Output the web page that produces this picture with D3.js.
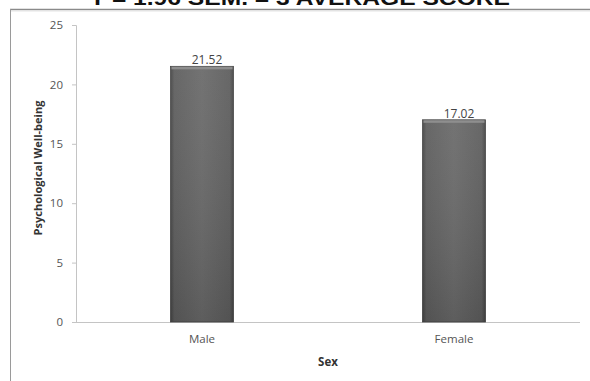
<!DOCTYPE html>
<html><head><meta charset="utf-8">
<script src="https://cdn.jsdelivr.net/npm/d3@7"></script>
<style>body{margin:0;background:#fff}svg{display:block}</style>
</head><body>
<script>
const categories = ["Male", "Female"];
const values = [21.52, 17.02];
const yTicks = [0, 5, 10, 15, 20, 25];
const titleText = "T = 1.96 SEM. = 3 AVERAGE SCORE";
const xTitle = "Sex";
const yTitle = "Psychological Well-being";

(function () {
const W = 590, H = 381;
const svg = d3.select("body").append("svg").attr("width", W).attr("height", H);
const defs = svg.append("defs");
const g1 = defs.append("linearGradient").attr("id", "barH").attr("x1", 0).attr("x2", 1).attr("y1", 0).attr("y2", 0);
[[0, "#444"], [0.06, "#5e5e5e"], [0.5, "#6a6a6a"], [0.94, "#5e5e5e"], [1, "#444"]]
  .forEach(([o, c]) => g1.append("stop").attr("offset", o).attr("stop-color", c));
const g2 = defs.append("linearGradient").attr("id", "barV").attr("x1", 0).attr("x2", 0).attr("y1", 0).attr("y2", 1);
[[0, "#ffffff", 0.06], [1, "#000000", 0.12]]
  .forEach(([o, c, a]) => g2.append("stop").attr("offset", o).attr("stop-color", c).attr("stop-opacity", a));

// title (clipped at top, as in the reference)
svg.append("text").attr("x", 300).attr("y", 5).attr("text-anchor", "middle")
  .attr("font-family", "Liberation Sans, Arial, sans-serif").attr("font-weight", "bold")
  .attr("font-size", 21).attr("textLength", 420).attr("lengthAdjust", "spacingAndGlyphs")
  .attr("fill", "#111").text(titleText);

// frame
svg.append("line").attr("x1", 10).attr("x2", W).attr("y1", 9.5).attr("y2", 9.5).attr("stroke", "#8a8a8a").attr("stroke-width", 1.5);
svg.append("line").attr("x1", 10).attr("x2", W).attr("y1", 11).attr("y2", 11).attr("stroke", "#e4e4e4").attr("stroke-width", 1);
svg.append("line").attr("x1", 10.5).attr("x2", 10.5).attr("y1", 9).attr("y2", H).attr("stroke", "#9a9a9a").attr("stroke-width", 1);

const pl = 76, pr = 580, pt = 25, pb = 322;
const x = d3.scaleBand().domain(categories).range([pl, pr]).paddingInner(0.75).paddingOuter(0.375);
const y = d3.scaleLinear().domain([0, 25]).range([pb, pt]);

const font = "Open Sans, Liberation Sans, sans-serif";

// y axis
const ya = svg.append("g").attr("transform", `translate(${pl},0)`)
  .call(d3.axisLeft(y).tickValues(yTicks).tickSize(4).tickPadding(9));
ya.select(".domain").attr("stroke", "#c4c4c4");
ya.selectAll(".tick line").attr("stroke", "#c4c4c4");
ya.selectAll(".tick text").attr("font-family", font).attr("font-size", 11.5).attr("fill", "#555");

// x axis
const xa = svg.append("g").attr("transform", `translate(0,${pb})`)
  .call(d3.axisBottom(x).tickSize(0).tickPadding(13).tickSizeOuter(0));
xa.select(".domain").attr("stroke", "#c4c4c4").attr("d", `M${pl},0.5H${pr}`);
xa.selectAll(".tick text").attr("font-family", font).attr("font-size", 11.5).attr("fill", "#555");

// bars
const bars = svg.append("g").selectAll("g").data(categories).join("g");
bars.append("rect").attr("x", d => x(d)).attr("width", x.bandwidth())
  .attr("y", (d, i) => y(values[i])).attr("height", (d, i) => y(0) - y(values[i]))
  .attr("fill", "url(#barH)").attr("stroke", "#444").attr("stroke-width", 0.8);
bars.append("rect").attr("x", d => x(d)).attr("width", x.bandwidth())
  .attr("y", (d, i) => y(values[i])).attr("height", (d, i) => y(0) - y(values[i]))
  .attr("fill", "url(#barV)");
bars.append("rect").attr("x", d => x(d) + 1).attr("width", x.bandwidth() - 2)
  .attr("y", (d, i) => y(values[i]) + 0.5).attr("height", 2.5).attr("fill", "#8e8e8e");

// value labels
svg.append("g").selectAll("text").data(categories).join("text")
  .attr("x", d => x(d) + x.bandwidth() / 2 + 5).attr("y", (d, i) => y(values[i]) - 2)
  .attr("text-anchor", "middle").attr("font-family", font).attr("font-size", 12).attr("fill", "#444")
  .text((d, i) => values[i].toFixed(2));

// axis titles
svg.append("text").attr("x", (pl + pr) / 2).attr("y", 366).attr("text-anchor", "middle")
  .attr("font-family", font).attr("font-weight", "bold").attr("font-size", 11.5).attr("fill", "#333").text(xTitle);
svg.append("text").attr("transform", `translate(42,168) rotate(-90)`).attr("text-anchor", "middle")
  .attr("font-family", font).attr("font-weight", "bold").attr("font-size", 11).attr("fill", "#333")
  .attr("textLength", 135).attr("lengthAdjust", "spacingAndGlyphs").text(yTitle);
})();
</script>
</body></html>
